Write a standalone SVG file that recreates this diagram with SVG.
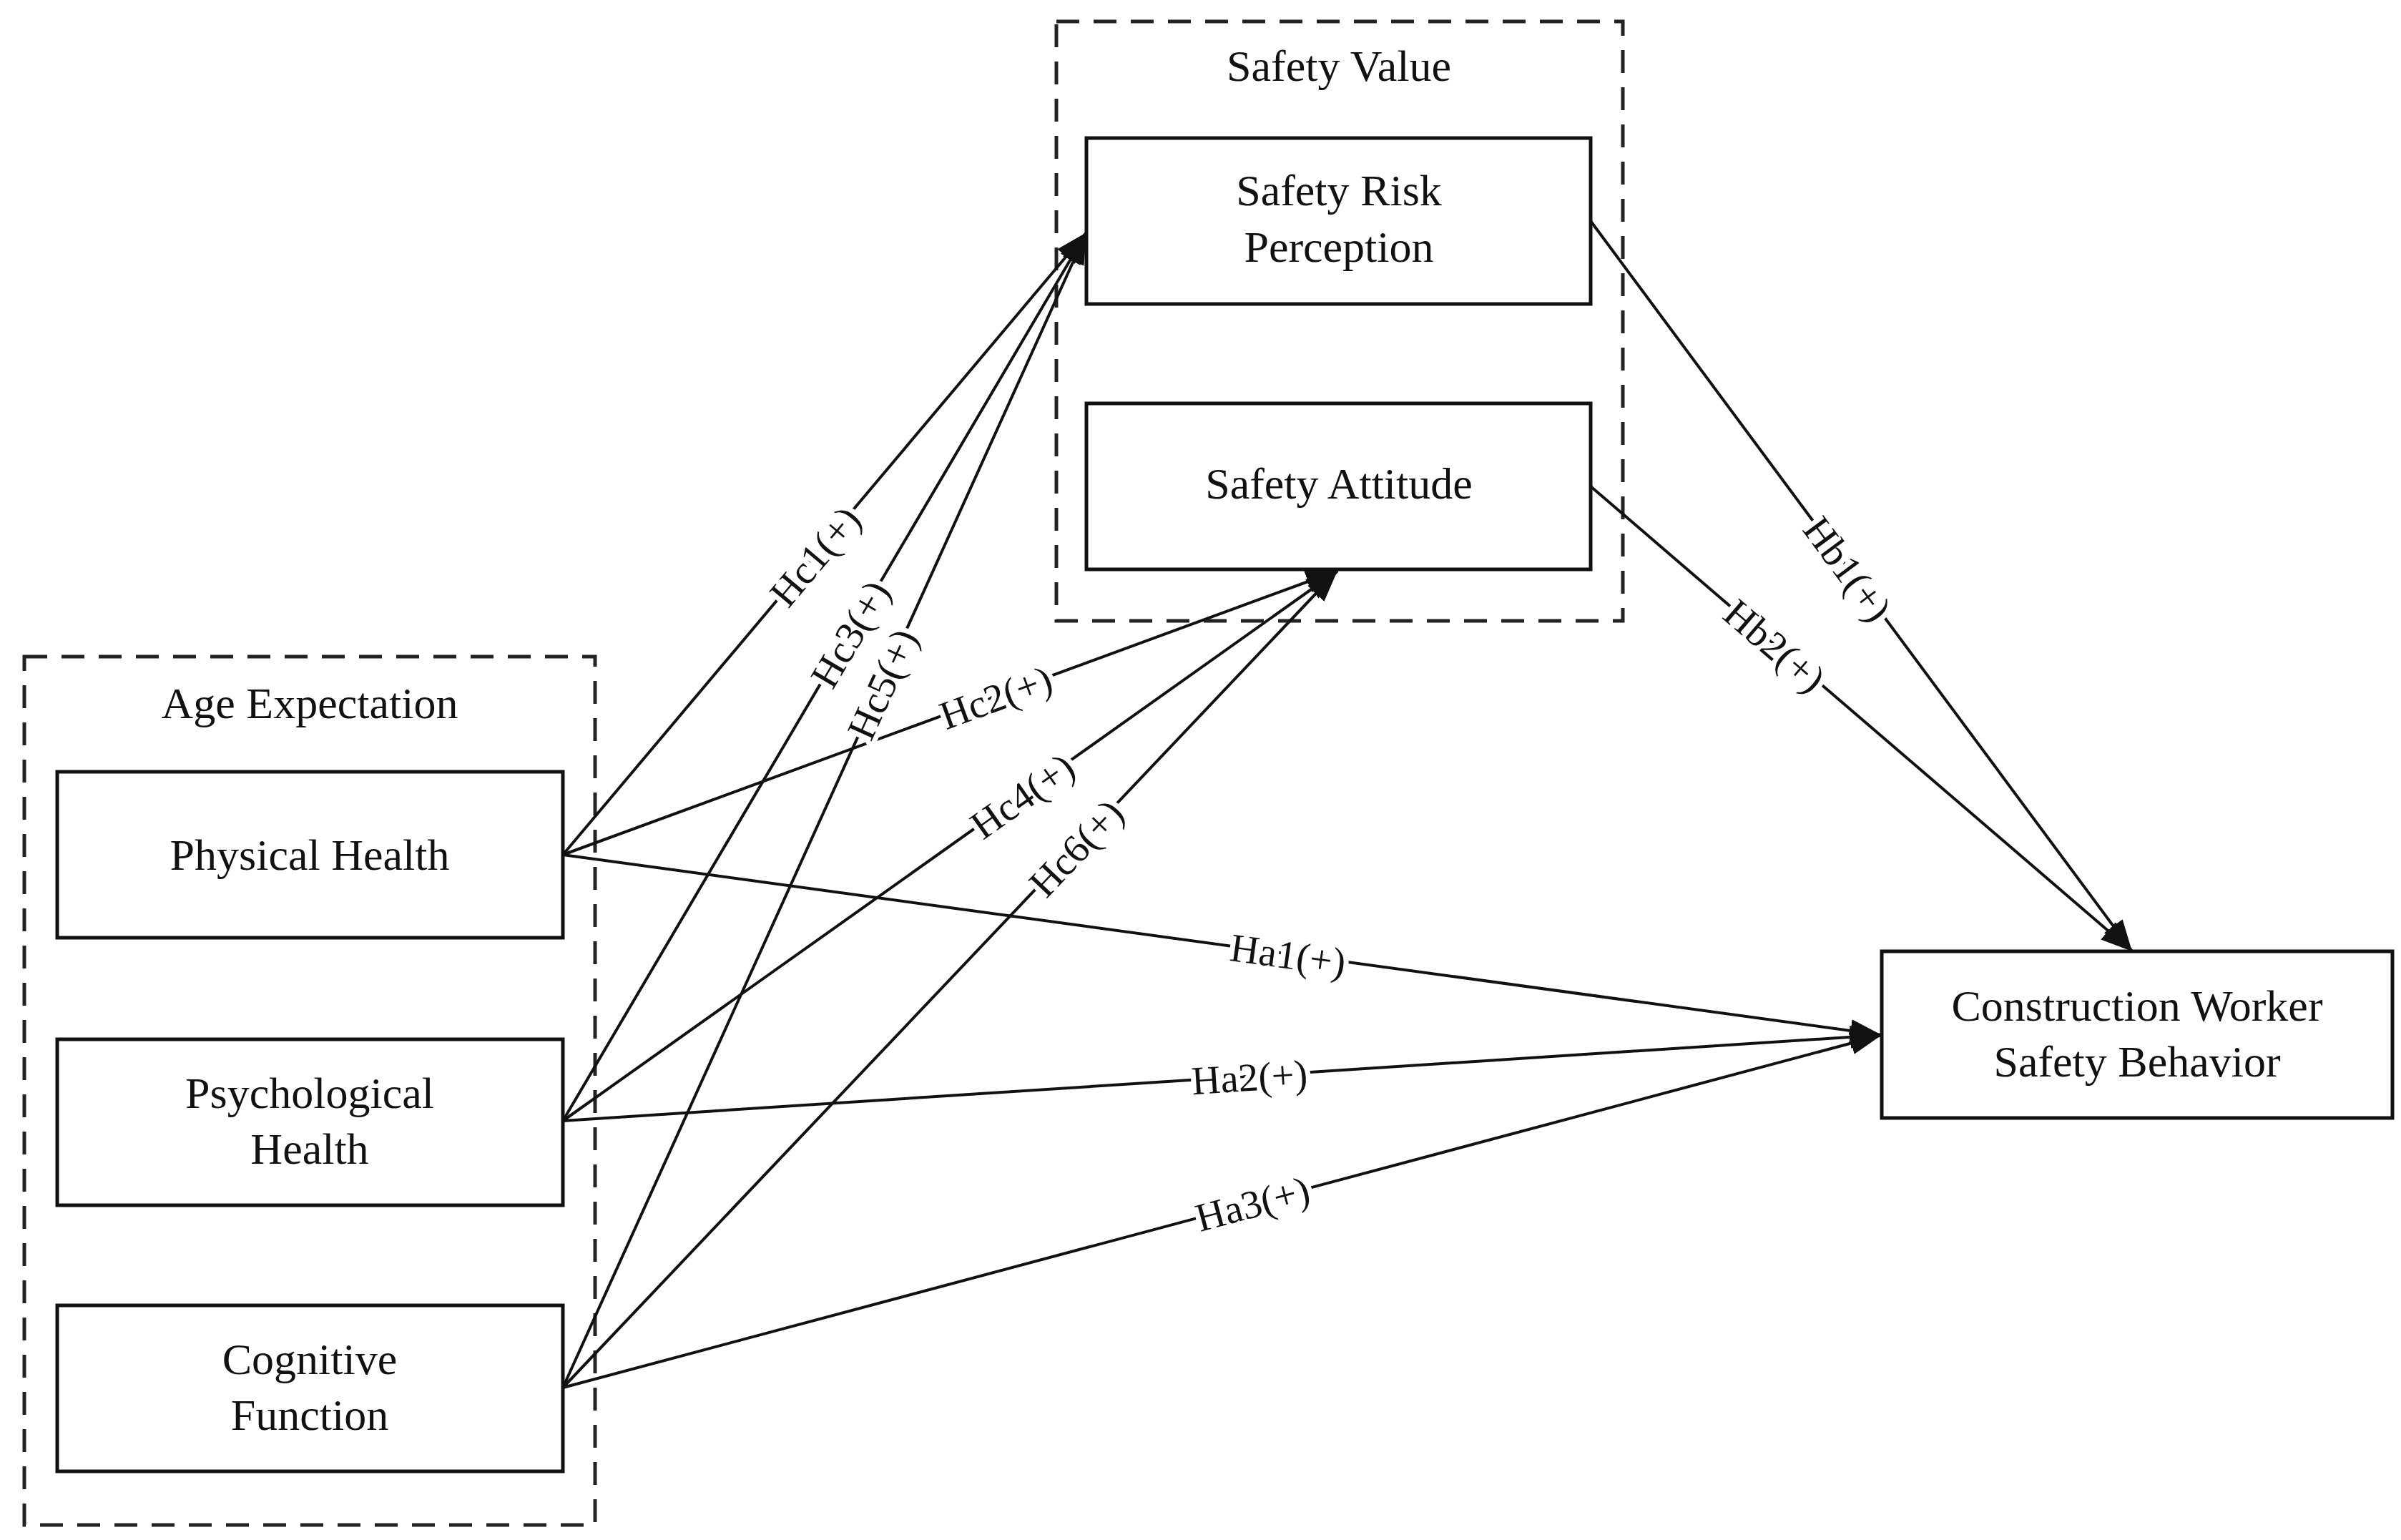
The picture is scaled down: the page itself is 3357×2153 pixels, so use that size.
<svg xmlns="http://www.w3.org/2000/svg" width="3357" height="2153" viewBox="0 0 3357 2153">
<style>
text{font-family:"Liberation Serif","Times New Roman",serif;font-size:62px;fill:#111;text-anchor:middle}
.box{fill:#fff;stroke:#111;stroke-width:5}
.grp{fill:none;stroke:#222;stroke-width:5;stroke-dasharray:32 20}
.ln{stroke:#111;stroke-width:4;fill:none;marker-end:url(#ah)}
.lb{font-size:56px;stroke:#fff;stroke-width:14px;paint-order:stroke;stroke-linejoin:round}
</style>
<defs>
<marker id="ah" markerUnits="userSpaceOnUse" markerWidth="50" markerHeight="40" refX="44" refY="16" orient="auto" viewBox="0 0 50 40">
<path d="M0,0 L44,16 L0,32 Z" fill="#111"/>
</marker>
</defs>
<rect width="3357" height="2153" fill="#fff"/>
<g id="safety-value"><rect class="grp" x="1477" y="30" width="792" height="838"/><text x="1872" y="113">Safety Value</text></g>
<g id="age-expectation"><rect class="grp" x="34" y="918" width="798" height="1214"/><text x="433" y="1004">Age Expectation</text></g>
<g id="connectors">
<line class="ln" x1="787" y1="1195" x2="1519" y2="325"/>
<line class="ln" x1="787" y1="1567" x2="1519" y2="325"/>
<line class="ln" x1="787" y1="1940" x2="1519" y2="325"/>
<line class="ln" x1="787" y1="1195" x2="1870" y2="798"/>
<line class="ln" x1="787" y1="1567" x2="1870" y2="798"/>
<line class="ln" x1="787" y1="1940" x2="1870" y2="798"/>
<line class="ln" x1="787" y1="1195" x2="2631" y2="1447"/>
<line class="ln" x1="787" y1="1567" x2="2631" y2="1447"/>
<line class="ln" x1="787" y1="1940" x2="2631" y2="1447"/>
<line class="ln" x1="2224" y1="309" x2="2981" y2="1330"/>
<line class="ln" x1="2224" y1="680" x2="2981" y2="1330"/>
<text class="lb" transform="translate(1139,777) rotate(-49.9)" dy="20">Hc1(+)</text>
<text class="lb" transform="translate(1188,886) rotate(-59.5)" dy="20">Hc3(+)</text>
<text class="lb" transform="translate(1233,956) rotate(-65.6)" dy="20">Hc5(+)</text>
<text class="lb" transform="translate(1392,974) rotate(-20)" dy="20">Hc2(+)</text>
<text class="lb" transform="translate(1429,1112) rotate(-35.3)" dy="20">Hc4(+)</text>
<text class="lb" transform="translate(1504,1185) rotate(-46.5)" dy="20">Hc6(+)</text>
<text class="lb" transform="translate(1801,1334) rotate(7.8)" dy="20">Ha1(+)</text>
<text class="lb" transform="translate(1747,1505) rotate(-3.7)" dy="20">Ha2(+)</text>
<text class="lb" transform="translate(1751,1682) rotate(-15)" dy="20">Ha3(+)</text>
<text class="lb" transform="translate(2584,795) rotate(53.4)" dy="20">Hb1(+)</text>
<text class="lb" transform="translate(2482,902) rotate(40.7)" dy="20">Hb2(+)</text>
</g>
<g id="srp"><rect class="box" x="1519" y="193" width="705" height="232"/><text x="1872" y="287">Safety Risk</text><text x="1872" y="366">Perception</text></g>
<g id="attitude"><rect class="box" x="1519" y="564" width="705" height="232"/><text x="1872" y="697">Safety Attitude</text></g>
<g id="physical"><rect class="box" x="80" y="1079" width="707" height="232"/><text x="433" y="1216">Physical Health</text></g>
<g id="psychological"><rect class="box" x="80" y="1453" width="707" height="232"/><text x="433" y="1549">Psychological</text><text x="433" y="1627">Health</text></g>
<g id="cognitive"><rect class="box" x="80" y="1825" width="707" height="232"/><text x="433" y="1921">Cognitive</text><text x="433" y="1999">Function</text></g>
<g id="cwsb"><rect class="box" x="2631" y="1330" width="714" height="233"/><text x="2988" y="1427">Construction Worker</text><text x="2988" y="1505">Safety Behavior</text></g>
</svg>
